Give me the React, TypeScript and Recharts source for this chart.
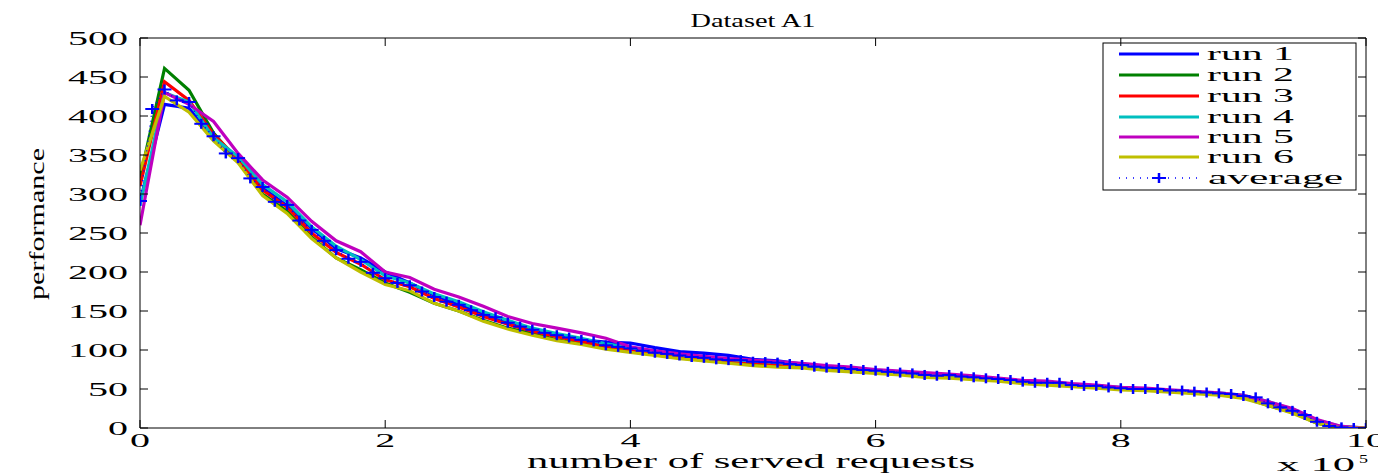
import React from 'react';
import { LineChart, Line, XAxis, YAxis, ReferenceLine, Customized } from 'recharts';

// ---------- data ----------
const AVG_STEP = 10000;
const RUN_STEP = 20000;

const averageValues = [
  291, 409, 434, 420, 418, 390, 374, 352, 346, 320,
  309, 290, 286, 266, 254, 240, 228, 217, 213, 199,
  192, 186, 183, 175, 168, 162, 158, 151, 145, 142,
  135, 130, 126, 122, 119, 116, 113, 111, 106, 104,
  102, 99, 96.5, 95, 93, 91, 90, 88, 87, 87,
  85, 84.5, 83.8, 82, 80.8, 78.6, 77.4, 77, 75.6, 74.4,
  73.5, 72, 71, 70, 68, 67, 68, 66, 65, 63.7,
  62.8, 61.5, 59.4, 58, 58, 58, 55, 54, 54, 52,
  51, 50, 50, 50, 48, 48, 46.6, 45.5, 44.4, 43.6,
  41, 39.3, 31.6, 26.5, 22, 16.7, 8, 2.6, 0.8, 0,
  0,
];

const run1 = [
  290, 415, 410, 370, 345, 308, 285, 256, 230, 218,
  200, 186, 170, 158, 146, 135, 126, 119, 113, 110,
  109, 103, 98, 96, 93, 88, 86, 82, 78, 76,
  74, 71, 69, 68, 65, 63, 60, 58, 56, 54,
  51, 50, 48, 46, 44, 41, 32, 23, 9, 1, 0,
];
const run2 = [
  320, 461, 433, 378, 342, 300, 278, 245, 218, 203,
  186, 174, 160, 150, 138, 128, 121, 113, 108, 103,
  98, 94, 90, 87, 84, 82, 80, 78, 75, 73,
  71, 69, 67, 66, 63, 61, 58, 56, 54, 52,
  50, 49, 47, 45, 43, 39, 29, 20, 6, 0, 0,
];
const run3 = [
  310, 444, 420, 376, 345, 305, 283, 250, 225, 210,
  190, 181, 166, 155, 143, 133, 124, 117, 111, 105,
  100, 96, 92, 89, 86, 84, 82, 79, 76, 74,
  72, 70, 67, 66, 64, 62, 59, 57, 55, 53,
  51, 50, 48, 46, 44, 41, 32, 23, 9, 1, 0,
];
const run4 = [
  285, 430, 418, 372, 348, 312, 290, 258, 233, 216,
  195, 186, 172, 162, 149, 138, 128, 121, 115, 108,
  103, 98, 94, 91, 88, 86, 84, 81, 78, 76,
  74, 72, 69, 68, 66, 63, 60, 58, 56, 54,
  52, 50, 48, 46, 45, 42, 34, 24, 10, 2, 0,
];
const run5 = [
  260, 430, 415, 393, 352, 318, 296, 265, 240, 226,
  200, 193, 178, 168, 156, 143, 134, 128, 122, 115,
  104, 99, 95, 92, 89, 87, 85, 83, 80, 78,
  75, 73, 71, 69, 67, 64, 61, 60, 57, 55,
  52, 51, 49, 47, 45, 42, 34, 25, 11, 2, 0,
];
const run6 = [
  330, 425, 405, 368, 340, 298, 275, 243, 218, 200,
  184, 176, 160, 150, 137, 127, 119, 112, 107, 101,
  97, 93, 89, 86, 83, 80, 78, 77, 74, 72,
  70, 68, 65, 64, 62, 60, 57, 55, 53, 51,
  49, 48, 46, 44, 42, 38, 29, 19, 6, 0, 0,
];

const runNames = ['run 1', 'run 2', 'run 3', 'run 4', 'run 5', 'run 6'];
const runColors = ['#0000ff', '#008000', '#ff0000', '#00bfbf', '#bf00bf', '#bfbf00'];
const runValues = [run1, run2, run3, run4, run5, run6];

const xTicks = [0, 200000, 400000, 600000, 800000, 1000000];
const xTickLabels = ['0', '2', '4', '6', '8', '10'];
const yTicks = [0, 50, 100, 150, 200, 250, 300, 350, 400, 450, 500];

const avgData = averageValues.map((v, i) => ({ x: i * AVG_STEP, y: v }));
const runData = runValues.map((arr) => arr.map((v, i) => ({ x: i * RUN_STEP, y: v })));

// ---------- layout ----------
const CHART_W = 1370;
const CHART_H = 467;
const MARGIN = { top: 30, right: 12, bottom: 7, left: 0 };
const Y_AXIS_W = 132;
const X_AXIS_H = 40;
const PLOT_W = CHART_W - MARGIN.left - MARGIN.right - Y_AXIS_W;
const PLOT_H = CHART_H - MARGIN.top - MARGIN.bottom - X_AXIS_H;
const FONT = '"Liberation Serif", "Times New Roman", serif';
const DIGIT_W = 20;
const TICK_LEN = 8;

const XTick = (props: any) => {
  const { x, y, payload } = props;
  const idx = xTicks.indexOf(payload.value);
  const label = idx >= 0 ? xTickLabels[idx] : String(payload.value / 100000);
  return (
    <g>
      <line x1={x} y1={y} x2={x} y2={y - TICK_LEN} stroke="#000" strokeWidth={1} />
      <line x1={x} y1={y - PLOT_H} x2={x} y2={y - PLOT_H + TICK_LEN} stroke="#000" strokeWidth={1} />
      <text
        x={x}
        y={y + 19}
        textAnchor="middle"
        fontFamily={FONT}
        fontSize={18}
        fill="#000"
        textLength={DIGIT_W * label.length}
        lengthAdjust="spacingAndGlyphs"
      >
        {label}
      </text>
    </g>
  );
};

const YTick = (props: any) => {
  const { x, y, payload } = props;
  const label = String(payload.value);
  return (
    <g>
      <line x1={x} y1={y} x2={x + TICK_LEN} y2={y} stroke="#000" strokeWidth={1} />
      <line x1={x + PLOT_W} y1={y} x2={x + PLOT_W - TICK_LEN} y2={y} stroke="#000" strokeWidth={1} />
      <text
        x={x - 12}
        y={y + 6.5}
        textAnchor="end"
        fontFamily={FONT}
        fontSize={19}
        fill="#000"
        textLength={DIGIT_W * label.length}
        lengthAdjust="spacingAndGlyphs"
      >
        {label}
      </text>
    </g>
  );
};

const PlusDot = (props: any) => {
  const { cx, cy, index } = props;
  if (cx == null || cy == null) return <g key={`p-${index}`} />;
  return (
    <g key={`p-${index}`}>
      <line x1={cx - 7} y1={cy} x2={cx + 7} y2={cy} stroke="#0000ff" strokeWidth={2} />
      <line x1={cx} y1={cy - 5} x2={cx} y2={cy + 5} stroke="#0000ff" strokeWidth={2.5} />
    </g>
  );
};

const Overlay = () => {
  const plotCx = MARGIN.left + Y_AXIS_W + PLOT_W / 2;
  const legX = 1095;
  const legY = 35;
  const rowY = [46, 67, 88, 109, 129, 149, 170];
  return (
    <g>
      <text x={plotCx} y={19} textAnchor="middle" fontFamily={FONT} fontSize={19} fill="#000"
        textLength={125} lengthAdjust="spacingAndGlyphs">Dataset A1</text>
      <text x={plotCx - 2} y={460} textAnchor="middle" fontFamily={FONT} fontSize={20} fill="#000"
        textLength={448} lengthAdjust="spacingAndGlyphs">number of served requests</text>
      <text x={1269} y={463} fontFamily={FONT} fontSize={18} fill="#000"
        textLength={78} lengthAdjust="spacingAndGlyphs">x 10</text>
      <text x={1351} y={455} fontFamily={FONT} fontSize={12} fill="#000"
        textLength={9} lengthAdjust="spacingAndGlyphs">5</text>
      <text transform="translate(36,216) rotate(-90)" textAnchor="middle" fontFamily={FONT} fontSize={22}
        fill="#000" textLength={152} lengthAdjust="spacingAndGlyphs">performance</text>
      <rect x={legX} y={legY} width={253} height={147} fill="#fff" stroke="#000" strokeWidth={1} />
      {runNames.map((name, i) => (
        <g key={name}>
          <line x1={1111} y1={rowY[i]} x2={1191} y2={rowY[i]} stroke={runColors[i]} strokeWidth={3} />
          <text x={1199} y={rowY[i] + 6} fontFamily={FONT} fontSize={19} fill="#000"
            textLength={87} lengthAdjust="spacingAndGlyphs">{name}</text>
        </g>
      ))}
      <g>
        <line x1={1111} y1={rowY[6]} x2={1191} y2={rowY[6]} stroke="#0000ff" strokeWidth={1.5} strokeDasharray="1 6" />
        <line x1={1144} y1={rowY[6]} x2={1158} y2={rowY[6]} stroke="#0000ff" strokeWidth={2} />
        <line x1={1151} y1={rowY[6] - 5} x2={1151} y2={rowY[6] + 5} stroke="#0000ff" strokeWidth={2.5} />
        <text x={1200} y={rowY[6] + 6} fontFamily={FONT} fontSize={19} fill="#000"
          textLength={135} lengthAdjust="spacingAndGlyphs">average</text>
      </g>
    </g>
  );
};

export default function App() {
  return (
    <div style={{ width: CHART_W, height: CHART_H }}>
      <LineChart width={CHART_W} height={CHART_H} margin={MARGIN}>
        <XAxis
          type="number"
          dataKey="x"
          domain={[0, 1000000]}
          ticks={xTicks}
          allowDataOverflow
          height={X_AXIS_H}
          tickSize={0}
          tickMargin={0}
          tickLine={false}
          axisLine={{ stroke: '#000', strokeWidth: 1 }}
          tick={<XTick />}
          interval={0}
        />
        <YAxis
          type="number"
          dataKey="y"
          domain={[0, 500]}
          ticks={yTicks}
          allowDataOverflow
          width={Y_AXIS_W}
          tickSize={0}
          tickMargin={0}
          tickLine={false}
          axisLine={{ stroke: '#000', strokeWidth: 1 }}
          tick={<YTick />}
          interval={0}
        />
        <ReferenceLine y={500} stroke="#000" strokeWidth={1} />
        <ReferenceLine x={1000000} stroke="#000" strokeWidth={1} />
        {runData.map((d, i) => (
          <Line
            key={runNames[i]}
            data={d}
            dataKey="y"
            name={runNames[i]}
            type="linear"
            stroke={runColors[i]}
            strokeWidth={3.2}
            dot={false}
            activeDot={false}
            isAnimationActive={false}
          />
        ))}
        <Line
          data={avgData}
          dataKey="y"
          name="average"
          type="linear"
          stroke="#0000ff"
          strokeWidth={1.5}
          strokeDasharray="1 4"
          dot={<PlusDot />}
          activeDot={false}
          isAnimationActive={false}
        />
        <Customized component={<Overlay />} />
      </LineChart>
    </div>
  );
}
